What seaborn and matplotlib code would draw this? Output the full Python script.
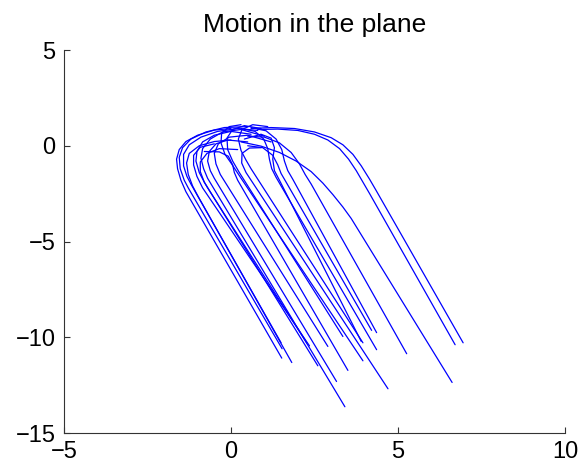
import pandas as pd
import matplotlib.pyplot as plt
import seaborn as sns

# waypoints (x, y) of each trajectory

# left hairpin bundle
p01 = [(0.0, 0.9), (-0.5, 0.82), (-1.0, 0.55), (-1.35, 0.22), (-1.55, -0.2), (-1.63, -0.7),
       (-1.6, -1.2), (-1.5, -1.8), (-1.35, -2.4), (1.52, -11.09)]
p02 = [(0.5, 1.0), (-0.2, 0.95), (-0.75, 0.72), (-1.2, 0.35), (-1.45, -0.1), (-1.55, -0.6),
       (-1.52, -1.2), (-1.4, -1.8), (-1.28, -2.2), (1.53, -10.6)]
p03 = [(0.8, 0.8), (0.2, 0.9), (-0.4, 0.75), (-0.9, 0.45), (-1.25, 0.05), (-1.42, -0.45),
       (-1.42, -1.05), (-1.32, -1.6), (-1.2, -2.0), (1.50, -10.29)]
p04 = [(0.0, 0.3), (-0.5, 0.22), (-0.95, 0.0), (-1.25, -0.4), (-1.33, -0.9), (-1.28, -1.5),
       (-1.15, -2.1), (-1.0, -2.6), (1.82, -11.32)]

# middle bundle
p05 = [(0.6, 0.6), (0.0, 0.75), (-0.5, 0.55), (-0.85, 0.2), (-1.02, -0.3), (-1.05, -0.8),
       (-0.95, -1.4), (-0.8, -1.9), (2.60, -11.49)]
p06 = [(1.0, 0.5), (0.3, 0.85), (-0.25, 0.72), (-0.62, 0.35), (-0.85, -0.15), (-0.9, -0.65),
       (-0.82, -1.2), (-0.7, -1.7), (3.41, -13.63)]
p07 = [(0.5, 0.2), (-0.1, 0.3), (-0.45, 0.1), (-0.65, -0.3), (-0.7, -0.8), (-0.62, -1.3),
       (-0.5, -1.7), (3.16, -12.31)]
p08 = [(0.2, -0.2), (-0.35, -0.15), (-0.72, -0.4), (-0.92, -0.85), (-0.92, -1.35),
       (-0.8, -1.9), (-0.7, -2.2), (2.27, -10.30)]
p09 = [(1.2, 0.2), (0.5, 0.55), (-0.05, 0.45), (-0.38, 0.1), (-0.5, -0.4), (-0.45, -0.95),
       (-0.32, -1.5), (2.90, -10.48)]
p10 = [(-0.8, -0.3), (-0.35, -0.32), (-0.08, -0.55), (0.05, -1.0), (0.1, -1.4), (0.2, -1.8),
       (3.50, -11.73)]
p11 = [(0.9, 0.9), (0.4, 1.05), (0.05, 0.85), (-0.12, 0.4), (-0.1, -0.2), (0.05, -0.8),
       (0.25, -1.4), (3.35, -9.96)]
p12 = [(0.3, 1.1), (-0.05, 1.0), (-0.28, 0.65), (-0.3, 0.15), (-0.18, -0.45), (0.0, -0.9),
       (0.15, -1.3), (3.95, -11.23)]
p13 = [(0.9, -0.1), (0.55, -0.12), (0.33, -0.4), (0.32, -0.9), (0.45, -1.4), (0.62, -1.85),
       (4.70, -12.69)]
p14 = [(1.1, 1.0), (0.65, 1.1), (0.33, 0.85), (0.22, 0.35), (0.3, -0.25), (0.45, -0.75),
       (0.6, -1.2), (3.95, -10.29)]
p15 = [(-0.5, 0.1), (-0.92, -0.08), (-1.12, -0.5), (-1.12, -1.0), (-1.02, -1.6),
       (-0.85, -2.2), (2.35, -10.45)]
p16 = [(0.4, 0.35), (0.9, 0.6), (1.2, 0.4), (1.3, -0.1), (1.25, -0.7), (1.3, -1.3),
       (1.45, -1.8), (3.90, -10.22)]

# right bundle, the wide flat ones
p17 = [(0.6, 0.9), (1.2, 0.95), (1.9, 0.9), (2.5, 0.72), (3.0, 0.42), (3.35, 0.05),
       (3.65, -0.45), (3.9, -1.05), (4.15, -1.75), (4.35, -2.35), (6.95, -10.29)]
p18 = [(0.8, 0.85), (1.4, 0.87), (2.0, 0.8), (2.5, 0.6), (2.9, 0.3), (3.25, -0.15),
       (3.52, -0.7), (3.75, -1.3), (3.95, -1.9), (4.15, -2.5), (6.71, -10.39)]
p19 = [(0.3, 0.2), (0.9, -0.02), (1.45, -0.35), (1.95, -0.8), (2.4, -1.35), (2.75, -1.95),
       (3.05, -2.55), (3.35, -3.2), (3.6, -3.8), (6.62, -12.36)]
p20 = [(0.5, 0.5), (1.0, 0.45), (1.45, 0.15), (1.8, -0.35), (2.05, -0.95), (2.22, -1.5),
       (2.4, -2.0), (5.26, -10.86)]
p21 = [(0.3, 0.9), (0.72, 0.75), (0.98, 0.35), (1.1, -0.15), (1.15, -0.7), (1.22, -1.2),
       (1.35, -1.65), (4.36, -10.65)]
p22 = [(0.6, 0.95), (1.05, 0.78), (1.35, 0.35), (1.52, -0.2), (1.6, -0.8), (1.7, -1.3),
       (1.85, -1.75), (4.36, -9.76)]
p23 = [(0.5, 0.0), (0.95, -0.1), (1.25, -0.5), (1.4, -1.0), (1.5, -1.45), (1.65, -1.9),
       (4.21, -9.64)]

paths = [p01, p02, p03, p04, p05, p06, p07, p08, p09, p10, p11, p12,
         p13, p14, p15, p16, p17, p18, p19, p20, p21, p22, p23]

x_ticks = [-5, 0, 5, 10]
y_ticks = [-15, -10, -5, 0, 5]


def main():
    rows = []
    for k, path in enumerate(paths):
        for step, (x, y) in enumerate(path):
            rows.append({"traj": k, "step": step, "x": x, "y": y})
    df = pd.DataFrame(rows)

    sns.set_style("white")
    plt.rcParams["font.family"] = ["Liberation Sans", "DejaVu Sans"]
    plt.rcParams["text.color"] = "black"
    plt.rcParams["xtick.color"] = "black"
    plt.rcParams["ytick.color"] = "black"

    fig = plt.figure(figsize=(5.82, 4.68), dpi=100)
    ax = fig.add_axes([64 / 582, 35 / 468, 501 / 582, 383 / 468])

    sns.lineplot(data=df, x="x", y="y", units="traj", estimator=None, sort=False,
                 color="#0000ff", linewidth=0.9, ax=ax, legend=False)

    ax.set_xlim(-5, 10)
    ax.set_ylim(-15, 5)
    ax.set_xticks(x_ticks)
    ax.set_yticks(y_ticks)
    ax.set_xticklabels([str(t).replace("-", "\u2212") for t in x_ticks])
    ax.set_yticklabels([str(t).replace("-", "\u2212") for t in y_ticks])
    ax.set_xlabel("")
    ax.set_ylabel("")

    for side in ["top", "right"]:
        ax.spines[side].set_visible(False)
    for side in ["left", "bottom"]:
        ax.spines[side].set_color("#333333")
        ax.spines[side].set_linewidth(0.8)

    ax.tick_params(direction="in", length=4, width=0.8, color="#333333",
                   labelcolor="black", labelsize=17, pad=6, left=True, bottom=True)

    ax.set_title("Motion in the plane", fontsize=19, pad=13, color="black")

    fig.savefig("out.png", dpi=100, facecolor="white")


if __name__ == "__main__":
    main()
